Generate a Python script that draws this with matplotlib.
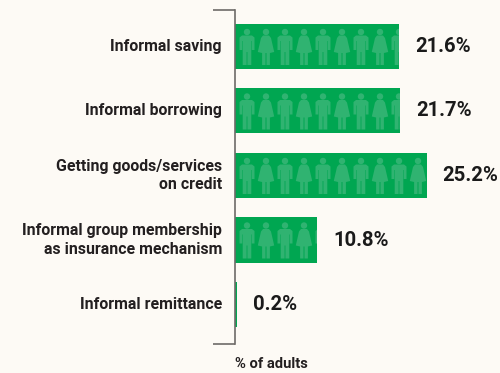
import matplotlib
matplotlib.use('Agg')
import matplotlib.pyplot as plt
from matplotlib.patches import Ellipse, Polygon

labels = ['Informal saving', 'Informal borrowing', 'Getting goods/services\non credit',
          'Informal group membership\nas insurance mechanism', 'Informal remittance']
values = [21.6, 21.7, 25.2, 10.8, 0.2]
value_labels = ['21.6%', '21.7%', '25.2%', '10.8%', '0.2%']

BG = '#fdfaf5'
GREEN = '#00a651'
ICON = '#30b371'
W, H = 500, 373
PX_X = 7.6    # pixels per percent
PX_Y = 64.5   # pixels per category

plt.rcParams['font.family'] = ['Roboto', 'DejaVu Sans']

fig = plt.figure(figsize=(W / 100, H / 100), dpi=100, facecolor=BG)
ax = fig.add_axes([235 / W, 1 - 344 / H, 265 / W, 334 / H])
ax.set_facecolor('none')
ax.set_xlim(0, 265 / PX_X)
ax.set_ylim(4 + 39.5 / PX_Y, -36.5 / PX_Y)

MAN = [(-5, 11.5), (5, 11.5), (7.5, 13.5), (7.5, 26), (4.8, 26), (4.8, 17), (4.3, 17), (4.3, 41), (0.4, 41), (0.4, 28),
       (-0.4, 28), (-0.4, 41), (-4.3, 41), (-4.3, 17), (-4.8, 17), (-4.8, 26), (-7.5, 26), (-7.5, 13.5)]
WOMAN = [(-3, 11.5), (3, 11.5), (5, 14), (8.2, 28), (3.9, 29), (3.9, 41), (0.5, 41), (0.5, 29),
         (-0.5, 29), (-0.5, 41), (-3.9, 41), (-3.9, 29), (-8.2, 28), (-5, 14)]


def add_icon(x0, y0, shape, clip):
    # shape is in pixels from the bar top, at the person's centre
    head = Ellipse((x0, y0 + 8 / PX_Y), 6.4 / PX_X, 6.4 / PX_Y, color=ICON, lw=0)
    body = Polygon([(x0 + a / PX_X, y0 + b / PX_Y) for a, b in shape], closed=True, color=ICON, lw=0)
    for p in (head, body):
        ax.add_patch(p)
        p.set_clip_path(clip)


bars = ax.barh(range(len(values)), values, height=45 / PX_Y, color=GREEN, linewidth=0, zorder=1)

for i, (bar, v) in enumerate(zip(bars, values)):
    top = i - 22.5 / PX_Y
    n = 0
    while (12 - 8 + n * 19) / PX_X < v:
        add_icon((12 + n * 19) / PX_X, top, MAN if n % 2 == 0 else WOMAN, bar)
        n += 1
    ax.text(v + 16 / PX_X, i, value_labels[i], fontsize=14.6, fontweight='bold', color='#1a1a1a',
            va='center', ha='left')
    ax.text(-13 / PX_X, i, labels[i], fontsize=11.45, fontweight='bold', color='#231f20',
            va='center', ha='right', linespacing=1.32)

ax.set_xticks([])
ax.set_yticks([])
for s in ['top', 'right', 'bottom']:
    ax.spines[s].set_visible(False)
ax.spines['left'].set_color('#6d6a68')
ax.spines['left'].set_linewidth(1.2)
ax.spines['left'].set_zorder(5)

# bracket ends at the top and bottom of the axis
for y in ax.get_ylim():
    ax.plot([-22 / PX_X, 0], [y, y], color='#6d6a68', lw=1.2, clip_on=False, solid_capstyle='butt')

ax.text(0, 4 + 59 / PX_Y, '% of adults', fontsize=10.6, fontweight='bold', color='#231f20', va='center', ha='left')

fig.savefig('out.png', dpi=100, facecolor=BG)
